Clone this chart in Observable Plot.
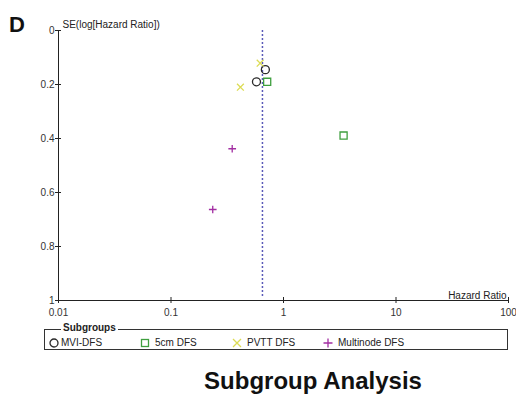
<!DOCTYPE html>
<html>
<head>
<meta charset="utf-8">
<script src="https://cdn.jsdelivr.net/npm/d3@7"></script>
<script src="https://cdn.jsdelivr.net/npm/@observablehq/plot@0.6"></script>
<style>
  body { margin: 0; background: #fff; font-family: "Liberation Sans", Arial, sans-serif; }
  #wrap { position: relative; width: 516px; height: 396px; overflow: hidden; }
  #panel { position: absolute; left: 9px; top: 12px; font-size: 22px; line-height: 25px; font-weight: bold; color: #111; }
  #legend { position: absolute; left: 44px; top: 329px; width: 464px; height: 21px; border: 1px solid #333; box-sizing: border-box; }
  #legend .ttl { position: absolute; left: 16px; top: -8px; background: #fff; padding: 0 2px; font-size: 10px; font-weight: bold; color: #222; line-height: 12px; }
  #legend .item { position: absolute; top: 7px; font-size: 10px; color: #222; line-height: 12px; display: flex; align-items: center; }
  #legend .item svg { margin-right: 2px; }
  #title { position: absolute; left: 0; width: 626px; top: 367px; text-align: center; font-size: 24px; line-height: 28px; font-weight: bold; color: #111; }
</style>
</head>
<body>
<div id="wrap">
  <div id="chart"></div>
  <div id="panel">D</div>
  <div id="legend"></div>
  <div id="title">Subgroup Analysis</div>
</div>
<script>
// Data
const groups = ["MVI-DFS", "MVI-DFS", "5cm DFS", "5cm DFS", "PVTT DFS", "PVTT DFS", "Multinode DFS", "Multinode DFS"];
const hazardRatio = [0.69, 0.575, 0.716, 3.42, 0.62, 0.414, 0.35, 0.235];
const seLogHR = [0.145, 0.19, 0.19, 0.389, 0.121, 0.21, 0.438, 0.663];
const pooledHR = [0.65];

const subgroupNames = ["MVI-DFS", "5cm DFS", "PVTT DFS", "Multinode DFS"];
const subgroupSymbols = ["circle", "square", "times", "plus"];
const subgroupColors = ["#2a2a2a", "#3f9f3f", "#dcdc55", "#a22ea2"];
const subgroupSizes = [4, 4, 3.2, 2.6];

const xTicks = [0.01, 0.1, 1, 10, 100];
const xTickLabels = ["0.01", "0.1", "1", "10", "100"];
const yTicks = [0, 0.2, 0.4, 0.6, 0.8, 1];
const yTickLabels = ["0", "0.2", "0.4", "0.6", "0.8", "1"];

const data = groups.map((g, i) => ({group: g, hr: hazardRatio[i], se: seLogHR[i]}));

const font = "'Liberation Sans', Arial, sans-serif";

const dotMarks = subgroupNames.map((name, k) =>
  Plot.dot(data.filter(d => d.group === name), {
    x: "hr", y: "se", symbol: subgroupSymbols[k], stroke: subgroupColors[k],
    r: subgroupSizes[k], strokeWidth: 1.3, fill: "none"
  })
);

const chart = Plot.plot({
  width: 516,
  height: 318,
  marginLeft: 58,
  marginRight: 8,
  marginTop: 30,
  marginBottom: 18,
  style: {fontFamily: font, fontSize: "10px", color: "#222", background: "#fff", overflow: "visible"},
  x: {type: "log", domain: [0.01, 100], axis: null, label: null},
  y: {domain: [0, 1], reverse: true, axis: null, label: null},
  marks: [
    Plot.ruleX([0.01], {y1: 0, y2: 1, stroke: "#222", strokeWidth: 1}),
    Plot.ruleY([1], {x1: 0.01, x2: 100, stroke: "#222", strokeWidth: 1}),
    Plot.axisY(yTicks, {anchor: "left", label: null, tickSize: 3, tickPadding: 1, stroke: "#222", tickFormat: d => yTickLabels[yTicks.indexOf(d)], fontSize: 10, fill: "#333"}),
    Plot.axisY(yTicks, {anchor: "left", label: null, tickSize: 3, dx: 3, text: null, stroke: "#222"}),
    Plot.ruleX(xTicks, {x: d => d, y1: 1, y2: 1, insetTop: -3, insetBottom: -3, stroke: "#222"}),
    Plot.text(xTicks, {x: d => d, y: 1, text: d => xTickLabels[xTicks.indexOf(d)], dy: 12, fontSize: 10, fill: "#333"}),
    Plot.ruleX(pooledHR, {y1: 0, y2: 0.985, stroke: "#5a5ab8", strokeWidth: 1.5, strokeDasharray: "2,2"}),
    ...dotMarks,
    Plot.text(["SE(log[Hazard Ratio])"], {frameAnchor: "top-left", lineAnchor: "middle", dx: 4, dy: -6, fontSize: 10, fill: "#222", textAnchor: "start"}),
    Plot.text(["Hazard Ratio"], {frameAnchor: "bottom-right", lineAnchor: "middle", dx: -2, dy: -5, fontSize: 10, fill: "#222", textAnchor: "end"})
  ]
});
document.getElementById("chart").appendChild(chart);

// Legend
const legend = document.getElementById("legend");
const ttl = document.createElement("div");
ttl.className = "ttl";
ttl.textContent = "Subgroups";
legend.appendChild(ttl);
const itemLeft = [4, 95, 187, 278];
const symPaths = {
  circle: '<circle cx="5" cy="5" r="4" fill="none" stroke-width="1.3"/>',
  square: '<rect x="1.5" y="1.5" width="7" height="7" fill="none" stroke-width="1.3"/>',
  times: '<path d="M1,1L9,9M9,1L1,9" fill="none" stroke-width="1.3"/>',
  plus: '<path d="M5,0.5V9.5M0.5,5H9.5" fill="none" stroke-width="1.3"/>'
};
subgroupNames.forEach((name, i) => {
  const it = document.createElement("div");
  it.className = "item";
  it.style.left = itemLeft[i] + "px";
  it.innerHTML = `<svg width="10" height="10" viewBox="0 0 10 10" stroke="${subgroupColors[i]}">${symPaths[subgroupSymbols[i]]}</svg><span style="margin-left:${i === 0 ? 0 : 3}px">${name}</span>`;
  legend.appendChild(it);
});
</script>
</body>
</html>
